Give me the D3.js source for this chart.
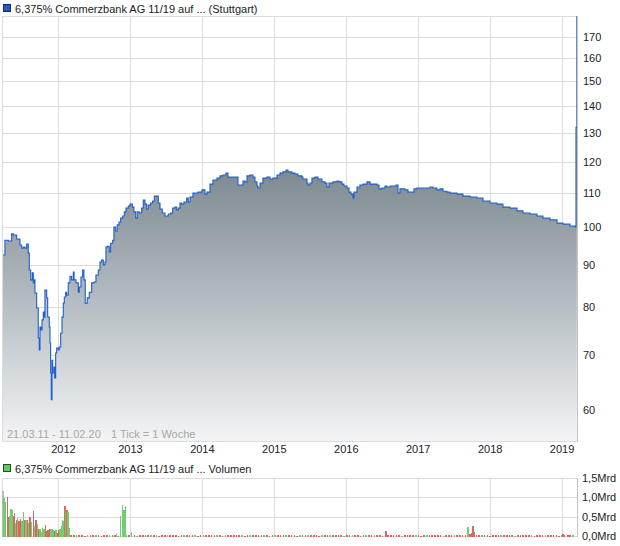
<!DOCTYPE html>
<html><head><meta charset="utf-8">
<script src="https://cdn.jsdelivr.net/npm/d3@7"></script>
<style>
body{margin:0;background:#fff;}
svg{display:block;font-family:"Liberation Sans",Arial,sans-serif;}
</style></head><body>
<svg id="c" width="620" height="546"></svg>
<script>
// ---------- data ----------
const title = "6,375% Commerzbank AG 11/19 auf ... (Stuttgart)";
const volTitle = "6,375% Commerzbank AG 11/19 auf ... Volumen";
const rangeNote = "21.03.11 - 11.02.20";
const tickNote = "1 Tick = 1 Woche";
const yearTicks = [2012, 2013, 2014, 2015, 2016, 2017, 2018, 2019];
const priceTicks = [60, 70, 80, 90, 100, 110, 120, 130, 140, 150, 160, 170];
const volTicks = [0, 0.5, 1, 1.5];
const volTickLabels = ["0,0Mrd", "0,5Mrd", "1,0Mrd", "1,5Mrd"];

// weekly closes (decimal year, price)
const priceYears = [
2011.236,2011.263,2011.309,2011.356,2011.379,2011.426,2011.472,2011.495,2011.518,2011.541,
2011.565,2011.587,2011.601,2011.621,2011.643,2011.657,2011.671,2011.680,2011.704,2011.726,
2011.740,2011.750,2011.764,2011.778,2011.796,2011.809,2011.819,2011.843,2011.857,2011.879,
2011.889,2011.898,2011.907,2011.917,2011.926,2011.944,2011.954,2011.968,2011.982,2012.004,
2012.018,2012.038,2012.056,2012.074,2012.088,2012.107,2012.121,2012.143,2012.167,2012.190,
2012.213,2012.224,2012.250,2012.282,2012.296,2012.320,2012.343,2012.361,2012.379,2012.407,
2012.435,2012.468,2012.500,2012.528,2012.560,2012.584,2012.607,2012.630,2012.653,2012.667,
2012.685,2012.713,2012.732,2012.760,2012.778,2012.802,2012.824,2012.848,2012.871,2012.899,
2012.922,2012.945,2012.977,2013.001,2013.033,2013.056,2013.080,2013.102,2013.130,2013.163,
2013.186,2013.209,2013.233,2013.255,2013.288,2013.316,2013.338,2013.372,2013.394,2013.418,
2013.450,2013.487,2013.533,2013.566,2013.594,2013.626,2013.650,2013.672,2013.696,2013.719,
2013.751,2013.789,2013.811,2013.835,2013.876,2013.946,2014.001,2014.043,2014.071,2014.113,
2014.154,2014.210,2014.252,2014.293,2014.335,2014.363,2014.460,2014.502,2014.571,2014.599,
2014.627,2014.669,2014.710,2014.738,2014.766,2014.780,2014.808,2014.849,2014.905,2014.947,
2014.988,2015.044,2015.086,2015.127,2015.169,2015.197,2015.252,2015.294,2015.336,2015.391,
2015.405,2015.461,2015.475,2015.503,2015.530,2015.572,2015.614,2015.669,2015.711,2015.739,
2015.767,2015.822,2015.878,2015.906,2015.947,2015.975,2016.017,2016.045,2016.073,2016.100,
2016.114,2016.156,2016.198,2016.239,2016.295,2016.337,2016.434,2016.462,2016.503,2016.545,
2016.573,2016.615,2016.698,2016.726,2016.753,2016.823,2016.865,2016.920,2016.948,2016.990,
2017.171,2017.212,2017.268,2017.310,2017.351,2017.407,2017.449,2017.546,2017.629,2017.727,
2017.824,2017.907,2018.004,2018.102,2018.185,2018.282,2018.380,2018.463,2018.561,2018.658,
2018.741,2018.839,2018.936,2019.019,2019.117,2019.186,2019.200,2019.212];
const priceValues = [
92.5,96.4,96.2,98.1,97.8,96.7,95.1,94.3,94.6,94.3,
95.4,93.0,88.7,86.3,88.0,85.6,86.3,83.2,79.8,73.4,
71.0,75.7,75.1,77.2,78.9,77.8,83.9,82.1,77.8,75.7,
72.4,66.6,61.8,69.0,66.6,67.7,65.7,70.4,71.4,71.0,
71.6,74.4,77.8,80.9,82.3,83.4,82.7,85.6,87.2,86.3,
88.2,86.3,85.6,83.4,84.6,87.0,88.7,86.3,80.9,82.1,
83.4,85.6,85.8,87.5,88.7,90.7,91.2,90.0,90.7,94.6,
94.8,93.3,95.6,96.4,100.0,98.9,100.6,101.4,102.5,103.1,
104.3,105.4,106.0,106.6,105.7,104.3,102.5,104.3,104.0,105.4,
107.8,106.6,105.1,106.3,106.9,107.5,109.0,109.0,106.9,105.1,
104.0,103.1,103.7,104.0,105.4,105.7,104.9,105.4,106.9,106.6,
107.2,108.4,107.2,108.7,109.9,110.2,110.9,109.6,110.2,112.7,
114.0,114.6,115.3,115.6,116.2,114.9,114.9,112.4,113.7,113.4,
115.3,115.6,114.9,113.4,112.1,111.5,113.0,114.6,114.9,114.3,
114.6,115.6,116.2,116.6,117.2,116.6,116.2,115.9,115.3,114.9,
114.3,113.0,112.4,113.0,114.6,114.9,114.3,113.4,113.0,111.8,
113.0,113.4,113.7,113.4,112.7,112.1,111.5,110.2,109.6,108.4,
110.2,111.8,112.4,112.7,113.4,112.7,112.4,111.2,111.5,112.1,
111.8,112.1,112.4,109.9,111.2,110.9,110.2,110.2,111.2,111.5,
111.8,111.5,110.9,111.2,110.5,110.2,109.9,109.6,109.0,108.7,
108.4,107.5,106.9,106.6,105.7,105.4,104.6,104.0,103.7,103.1,
102.5,102.0,101.1,100.8,100.3,100.0,132.0,195.0];

// notable volume bars (decimal year, Mrd, direction g=up r=down n=neutral)
const volYears = [
2011.237,2011.249,2011.263,2011.295,2011.309,2011.333,2011.347,2011.361,2011.379,2011.393,
2011.407,2011.426,2011.440,2011.458,2011.482,2011.500,2011.518,2011.537,2011.555,2011.573,
2011.593,2011.611,2011.634,2011.657,2011.676,2011.694,2011.712,2011.732,2011.750,2011.768,
2011.787,2011.805,2011.823,2011.843,2011.861,2011.879,2011.898,2011.917,2011.935,2011.954,
2011.972,2011.990,2012.010,2012.028,2012.046,2012.065,2012.083,2012.097,2012.111,2012.125,
2012.139,2012.157,2012.816,2012.871,2012.894,2012.917,2012.935,2013.024,2016.559,2017.699,
2017.727,2017.755,2017.769,2017.782,2019.019,2019.089];
const volValues = [
1.17,0.98,0.88,1.01,0.48,0.53,0.70,0.67,0.51,0.59,
0.34,0.42,0.46,0.38,0.45,0.38,0.62,0.42,0.42,0.42,
0.34,0.49,0.36,0.64,0.25,0.42,0.31,0.19,0.18,0.11,
0.21,0.18,0.29,0.14,0.16,0.18,0.18,0.18,0.16,0.14,
0.16,0.08,0.16,0.19,0.25,0.42,0.40,0.77,0.64,0.68,
0.62,0.21,0.05,0.51,0.81,0.68,0.77,0.10,0.14,0.22,
0.05,0.08,0.25,0.10,0.05,0.03];
const volDir = "nggrrgggrrgrgrrggrgrgrgrgrgrggggrrrrgggrgrrggggrgrgg" + "ggggggrgrrrrrr";

// small weekly volumes from 2012.18 onwards (every two weeks)
const lowVolStart = 2012.18;
const lowVolStep = 0.03833;
const lowVolValues = [
0.03,0.02,0.02,0.03,0.02,0.01,0.02,0.02,0.03,0.02,0.02,0.01,0.02,0.03,0.02,0.02,0.02,0.01,0.02,0.02,
0.02,0.03,0.02,0.02,0.01,0.02,0.02,0.02,0.03,0.02,0.02,0.02,0.01,0.02,0.02,0.03,0.02,0.02,0.02,0.01,
0.02,0.02,0.02,0.03,0.02,0.02,0.01,0.02,0.02,0.02,0.02,0.03,0.02,0.02,0.02,0.01,0.02,0.02,0.02,0.02,
0.03,0.02,0.02,0.01,0.02,0.02,0.02,0.02,0.02,0.03,0.02,0.02,0.01,0.02,0.02,0.02,0.02,0.02,0.03,0.02,
0.02,0.02,0.01,0.02,0.02,0.02,0.03,0.02,0.02,0.02,0.01,0.02,0.02,0.02,0.02,0.03,0.02,0.02,0.02,0.01,
0.02,0.03,0.02,0.02,0.02,0.01,0.02,0.02,0.02,0.03,0.02,0.02,0.02,0.01,0.02,0.02,0.03,0.02,0.02,0.02,
0.01,0.02,0.02,0.02,0.03,0.02,0.02,0.01,0.02,0.02,0.02,0.02,0.03,0.02,0.02,0.01,0.02,0.02,0.02,0.02,
0.02,0.03,0.02,0.02,0.01,0.02,0.02,0.02,0.02,0.03,0.02,0.02,0.01,0.02,0.02,0.02,0.03,0.02,0.02,0.02,
0.02,0.01,0.02,0.02,0.03,0.02,0.02,0.02,0.01,0.02,0.02,0.02,0.02,0.03,0.02,0.02,0.02,0.01,0.02,0.02,
0.02,0.03,0.02];
const lowVolDir =
"rrgrrrgrrgrrrrgrrgrr" + "grrrgrrrrgrgrrrgrrrr" + "rgrrrgrrgrrrrgrrgrrr" +
"rrgrrgrrrrgrrrgrrrgr" + "rrrgrrgrrrrgrrgrrrrg" + "rrgrrrrgrrgrrrgrrrrr" +
"grrrrgrrrgrrrrrgrrrg" + "rrrrgrrrrgrrrrrrgrrr" + "rgrrrrrgrrrrgrrrrrgr" + "rrg";

// ---------- layout ----------
const svg = d3.select("#c");
const L = 3, R = 577, T = 16, B = 441;
const VT = 478, VB = 536;
const gridColor = "#dcdcdc", frameColor = "#c4c4c4", textColor = "#222";
const upColor = "#6dcf6d", downColor = "#e06464", neutralColor = "#b8b8b8";

const x = d3.scaleLinear().domain([2011.236, 2019.214]).range([L, R]);
const y = d3.scaleLog().domain([55.1, 180]).range([B, T]);
const yv = d3.scaleLinear().domain([0, 1.5]).range([VB, VT]);

const prices = priceYears.map((t, i) => ({t, v: priceValues[i]}));

// defs
const defs = svg.append("defs");
const grad = defs.append("linearGradient").attr("id", "fillGrad")
  .attr("gradientUnits", "userSpaceOnUse").attr("x1", 0).attr("x2", 0)
  .attr("y1", y(117.5)).attr("y2", B);
grad.append("stop").attr("offset", 0).attr("stop-color", "#7d8990");
grad.append("stop").attr("offset", 0.5).attr("stop-color", "#b6bec3");
grad.append("stop").attr("offset", 1).attr("stop-color", "#f3f4f5");
defs.append("clipPath").attr("id", "clipMain").append("rect")
  .attr("x", L).attr("y", T).attr("width", R - L).attr("height", B - T);

// ---------- main panel ----------
svg.append("rect").attr("x", 3.5).attr("y", 4.5).attr("width", 7).attr("height", 7)
  .attr("fill", "#1f5cc8").attr("stroke", "#1a2a55");
svg.append("text").attr("x", 15).attr("y", 12.5).attr("font-size", 11)
  .attr("fill", textColor).text(title);

const grid = svg.append("g");
grid.selectAll("line.h").data(priceTicks).join("line")
  .attr("x1", L).attr("x2", R).attr("y1", d => Math.round(y(d)) + 0.5).attr("y2", d => Math.round(y(d)) + 0.5)
  .attr("stroke", gridColor);
grid.selectAll("line.v").data(yearTicks).join("line")
  .attr("x1", d => Math.round(x(d)) + 0.5).attr("x2", d => Math.round(x(d)) + 0.5)
  .attr("y1", T).attr("y2", B).attr("stroke", gridColor);

svg.append("rect").attr("x", L - 0.5).attr("y", T + 0.5).attr("width", R - L + 1).attr("height", B - T)
  .attr("fill", "none").attr("stroke", gridColor);

const plot = svg.append("g").attr("clip-path", "url(#clipMain)");
plot.append("path").datum(prices)
  .attr("d", d3.area().curve(d3.curveStepAfter).x(d => x(d.t)).y0(B).y1(d => y(d.v)))
  .attr("fill", "url(#fillGrad)");
plot.append("path").datum(prices)
  .attr("d", d3.line().curve(d3.curveStepAfter).x(d => x(d.t)).y(d => y(d.v)))
  .attr("fill", "none").attr("stroke", "#1f5fcc").attr("stroke-width", 1.1);

svg.append("line").attr("x1", R + 0.5).attr("x2", R + 0.5).attr("y1", T).attr("y2", B + 1)
  .attr("stroke", frameColor);

svg.append("text").attr("x", 7).attr("y", 438).attr("font-size", 11).attr("fill", "#a8a8a8").text(rangeNote);
svg.append("text").attr("x", 111).attr("y", 438).attr("font-size", 11).attr("fill", "#a8a8a8").text(tickNote);

const yAxis = svg.append("g").attr("transform", `translate(${R},0)`)
  .call(d3.axisRight(y).tickValues(priceTicks).tickFormat(d3.format("d")).tickSize(0).tickPadding(6));
yAxis.select(".domain").remove();
yAxis.selectAll("text").attr("font-size", 11).attr("fill", textColor)
  .attr("font-family", '"Liberation Sans",Arial,sans-serif');

const xAxis = svg.append("g").attr("transform", `translate(0,${B})`)
  .call(d3.axisBottom(x).tickValues(yearTicks).tickFormat(d3.format("d")).tickSize(0).tickPadding(4));
xAxis.select(".domain").remove();
xAxis.selectAll("text").attr("font-size", 11).attr("fill", textColor)
  .attr("font-family", '"Liberation Sans",Arial,sans-serif')
  .attr("dx", (d, i) => i === 0 ? 5 : 0);

// ---------- volume panel ----------
svg.append("rect").attr("x", 3.5).attr("y", 464.5).attr("width", 7).attr("height", 7)
  .attr("fill", "#5ccc5c").attr("stroke", "#2a4a2a");
svg.append("text").attr("x", 15).attr("y", 473).attr("font-size", 11)
  .attr("fill", textColor).text(volTitle);

const vgrid = svg.append("g");
vgrid.selectAll("line.h").data(volTicks).join("line")
  .attr("x1", L).attr("x2", R).attr("y1", d => Math.round(yv(d)) + 0.5).attr("y2", d => Math.round(yv(d)) + 0.5)
  .attr("stroke", gridColor);
vgrid.selectAll("line.v").data(yearTicks).join("line")
  .attr("x1", d => Math.round(x(d)) + 0.5).attr("x2", d => Math.round(x(d)) + 0.5)
  .attr("y1", VT).attr("y2", VB).attr("stroke", gridColor);
svg.append("line").attr("x1", L - 0.5).attr("x2", L - 0.5).attr("y1", VT).attr("y2", VB).attr("stroke", gridColor);

const colorOf = c => c === "g" ? upColor : c === "r" ? downColor : neutralColor;
const lowVol = lowVolValues.map((v, i) => ({t: lowVolStart + i * lowVolStep, v, c: lowVolDir[i] || "r"}))
  .filter(d => d.t <= 2019.214);
const vol = volYears.map((t, i) => ({t, v: volValues[i], c: volDir[i] || "r"}));

const barH = d => Math.max(1, VB + 1 - yv(d.v));
const bars = svg.append("g").attr("shape-rendering", "crispEdges");
bars.selectAll("rect.low").data(lowVol).join("rect")
  .attr("x", d => x(d.t) - 0.7).attr("width", 1.6)
  .attr("y", d => VB + 1 - barH(d)).attr("height", barH)
  .attr("fill", d => colorOf(d.c));
bars.selectAll("rect.main").data(vol).join("rect")
  .attr("x", d => x(d.t) - 0.6).attr("width", 1.2)
  .attr("y", d => VB + 1 - barH(d)).attr("height", barH)
  .attr("fill", d => colorOf(d.c));

svg.append("line").attr("x1", R + 0.5).attr("x2", R + 0.5).attr("y1", VT).attr("y2", VB + 1)
  .attr("stroke", frameColor);

const vAxis = svg.append("g").attr("transform", `translate(${R},0)`)
  .call(d3.axisRight(yv).tickValues(volTicks).tickFormat((d, i) => volTickLabels[i]).tickSize(0).tickPadding(5));
vAxis.select(".domain").remove();
vAxis.selectAll("text").attr("font-size", 11).attr("fill", textColor)
  .attr("font-family", '"Liberation Sans",Arial,sans-serif');
</script>
</body></html>
